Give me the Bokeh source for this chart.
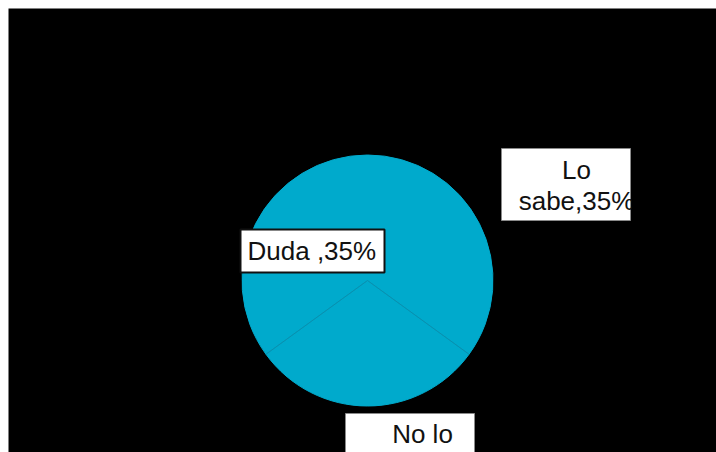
import math
from bokeh.plotting import figure
from bokeh.models import Range1d
from bokeh.core.properties import value
from bokeh.embed import file_html
from bokeh.resources import INLINE

# ---- data ----
categories = ["Lo sabe", "Duda", "No lo sabe"]
percents = [35, 35, 30]
label_lines = [["Lo", "sabe,35%"], ["Duda ,35%"], ["No lo", "sabe,30%"]]

FW, FH = 708, 444          # black frame size
PIE_COLOR = "#00AACC"
EDGE_COLOR = "#0A8FAE"
FONT = "Liberation Sans"


def sx(x):
    return x - 8


def sy(y):
    return 8 + FH - y


p = figure(width=FW + 8, height=FH + 8, output_backend="svg",
           toolbar_location=None,
           x_range=Range1d(0, FW), y_range=Range1d(0, FH),
           min_border_left=8, min_border_top=8,
           min_border_right=0, min_border_bottom=0,
           outline_line_color=None)
p.axis.visible = False
p.grid.visible = False
p.background_fill_color = "black"
p.border_fill_color = "white"

# pie geometry (screen px)
cx, cy, r = sx(367), sy(280), 125.5
total = float(sum(percents))
# "No lo sabe" slice centred at the bottom; others follow counter-clockwise
order = [2, 0, 1]
a = math.radians(270) - math.pi * percents[2] / total
angles = {}
for i in order:
    span = 2 * math.pi * percents[i] / total
    angles[i] = (a, a + span)
    a += span
starts = [angles[i][0] for i in range(len(categories))]
ends = [angles[i][1] for i in range(len(categories))]

p.wedge(x=[cx] * 3, y=[cy] * 3, radius=r, start_angle=starts, end_angle=ends,
        fill_color=PIE_COLOR, line_color=PIE_COLOR, line_width=1)

# radial edges of the bottom slice
s0, e0 = angles[2]
p.segment(x0=[cx, cx], y0=[cy, cy],
          x1=[cx + r * math.cos(s0), cx + r * math.cos(e0)],
          y1=[cy + r * math.sin(s0), cy + r * math.sin(e0)],
          line_color=EDGE_COLOR, line_width=1)

# label boxes (screen px: left, top, right, bottom)
boxes = [(501, 148, 630, 220), (240, 229, 384, 272), (345, 413, 474, 480)]
box_lines = ["#8a8a8a", "#111111", "#8a8a8a"]
box_widths = [1, 2, 1]
for (l, t, rr, b), lc, lw in zip(boxes, box_lines, box_widths):
    p.quad(left=[sx(l)], right=[sx(rr)], top=[sy(t)], bottom=[sy(b)],
           fill_color="white", line_color=lc, line_width=lw)

# label texts (anchor = first baseline), one glyph per line
anchors = [(576, 169, "center"), (247, 250, "left"), (422, 433, "center")]
LINE_STEP = 31
for lines, (ax, ay, al) in zip(label_lines, anchors):
    for k, line in enumerate(lines):
        p.text(x=[sx(ax)], y=[sy(ay + k * LINE_STEP)], text=[line],
               text_font=value(FONT), text_font_size="26px",
               text_color="#111111", text_align=al,
               text_baseline="alphabetic")

# text overflowing the right edge of the "Lo sabe" box is cut off
p.quad(left=[sx(631)], right=[sx(650)], top=[sy(178)], bottom=[sy(218)],
       fill_color="black", line_color=None)

open("out.html", "w").write(file_html(p, INLINE))
